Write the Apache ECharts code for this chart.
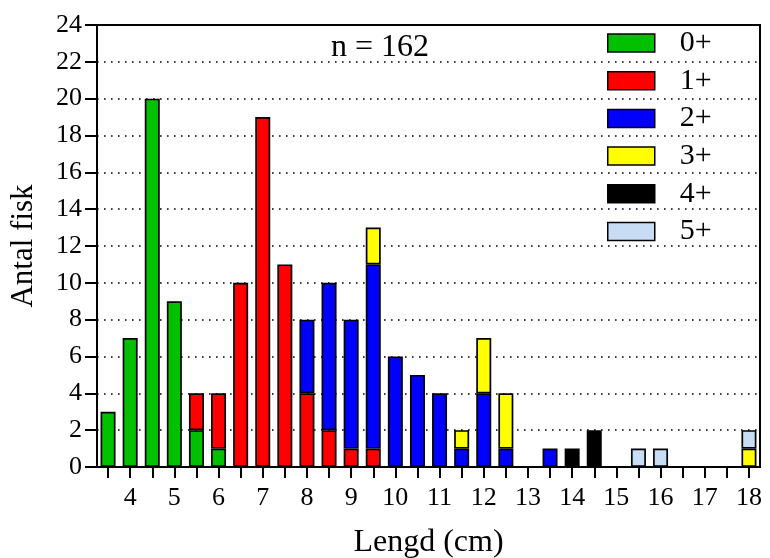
<!DOCTYPE html>
<html>
<head>
<meta charset="utf-8">
<script src="https://cdn.jsdelivr.net/npm/echarts@6/dist/echarts.min.js"></script>
<style>html,body{margin:0;padding:0;background:#fff}#c{width:770px;height:558px}</style>
</head>
<body>
<div id="c"></div>
<script>
const categories = [3.5,4,4.5,5,5.5,6,6.5,7,7.5,8,8.5,9,9.5,10,10.5,11,11.5,12,12.5,13,13.5,14,14.5,15,15.5,16,16.5,17,17.5,18];
const age0 = [3,7,20,9,2,1,0,0,0,0,0,0,0,0,0,0,0,0,0,0,0,0,0,0,0,0,0,0,0,0];
const age1 = [0,0,0,0,2,3,10,19,11,4,2,1,1,0,0,0,0,0,0,0,0,0,0,0,0,0,0,0,0,0];
const age2 = [0,0,0,0,0,0,0,0,0,4,8,7,10,6,5,4,1,4,1,0,1,0,0,0,0,0,0,0,0,0];
const age3 = [0,0,0,0,0,0,0,0,0,0,0,0,2,0,0,0,1,3,3,0,0,0,0,0,0,0,0,0,0,1];
const age4 = [0,0,0,0,0,0,0,0,0,0,0,0,0,0,0,0,0,0,0,0,0,1,2,0,0,0,0,0,0,0];
const age5 = [0,0,0,0,0,0,0,0,0,0,0,0,0,0,0,0,0,0,0,0,0,0,0,0,1,1,0,0,0,1];
const seriesNames = ['0+','1+','2+','3+','4+','5+'];
const seriesColors = ['#00c000','#ff0000','#0000ff','#ffff00','#000000','#c8dcf4'];
const yTicks = [0,2,4,6,8,10,12,14,16,18,20,22,24];

const font = 'Liberation Serif';
const allData = [age0,age1,age2,age3,age4,age5];
const chart = echarts.init(document.getElementById('c'));
chart.setOption({
  animation:false,
  backgroundColor:'#fff',
  textStyle:{fontFamily:font,color:'#000'},
  title:{text:'n = 162',left:326,top:27,textStyle:{fontFamily:font,fontSize:32,fontWeight:'normal',color:'#000'}},
  legend:{
    orient:'vertical',left:602,top:23,itemWidth:47,itemHeight:18,itemGap:7.7,icon:'rect',
    data:seriesNames,
    textStyle:{fontFamily:font,fontSize:30,lineHeight:26,color:'#000',padding:[0,0,0,20]},
    itemStyle:{borderColor:'#000',borderWidth:1.5}
  },
  grid:{left:97,right:10,top:25,bottom:91,outerBoundsMode:'none',containLabel:false,show:true,borderColor:'#000',borderWidth:2,backgroundColor:'transparent'},
  xAxis:{
    type:'category',data:categories,
    name:'Lengd (cm)',nameLocation:'middle',nameGap:60,
    nameTextStyle:{fontFamily:font,fontSize:32,color:'#000'},
    axisLine:{lineStyle:{color:'#000',width:2}},
    axisTick:{show:true,interval:0,alignWithLabel:true,length:11,lineStyle:{color:'#000',width:2}},
    axisLabel:{interval:function(i){return i%2===1;},fontFamily:font,fontSize:26,color:'#000',margin:18},
    splitLine:{show:false}
  },
  yAxis:{
    type:'value',min:yTicks[0],max:yTicks[yTicks.length-1],interval:2,
    name:'Antal fisk',nameLocation:'middle',nameGap:58,
    nameTextStyle:{fontFamily:font,fontSize:31,color:'#000'},
    axisLine:{show:true,lineStyle:{color:'#000',width:2}},
    axisTick:{show:true,length:12,lineStyle:{color:'#000',width:2}},
    axisLabel:{fontFamily:font,fontSize:26,color:'#000',margin:15},
    splitLine:{show:true,lineStyle:{color:'#000',width:1.6,type:[1.6,5.4]}}
  },
  series:allData.map(function(d,i){
    return {
      name:seriesNames[i],type:'bar',stack:'all',barWidth:15,
      data:d.map(function(v){return v===0?null:v;}),
      itemStyle:{color:seriesColors[i],borderColor:'#000',borderWidth:1.7}
    };
  })
});
</script>
</body>
</html>
